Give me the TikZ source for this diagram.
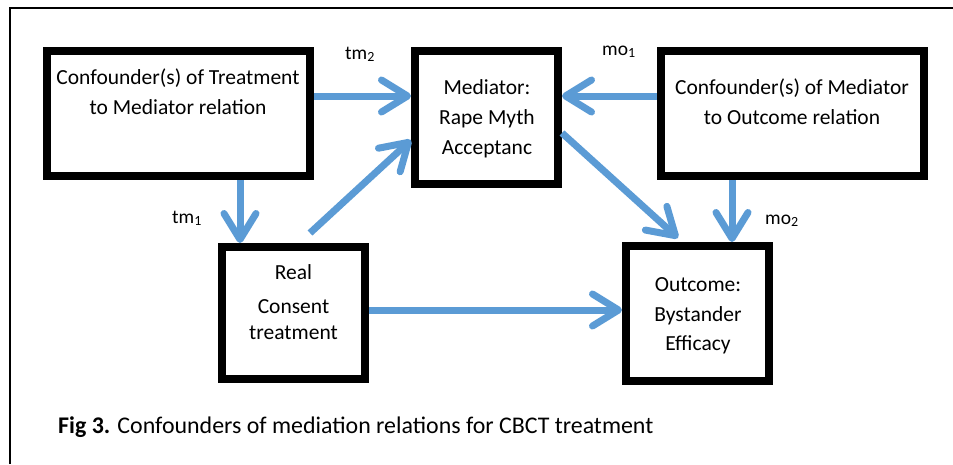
\documentclass[tikz,border=0pt]{standalone}
\usepackage{fontspec}
\setmainfont{Carlito}
\usetikzlibrary{arrows.meta}
\definecolor{arrowblue}{HTML}{5B9BD5}
\newcommand{\lowsub}[1]{\raisebox{-2.5pt}{\fontsize{14}{14}\selectfont #1}}
\begin{document}
\begin{tikzpicture}[x=1pt,y=-1pt,
  box/.style={draw=black, line width=8pt, outer sep=4pt, inner sep=0pt, fill=white, rectangle},
  boxtext/.style={anchor=base, inner sep=0pt, font=\fontsize{21.5}{25}\selectfont},
  lbl/.style={anchor=base west, inner sep=0pt, font=\fontsize{19.5}{23}\selectfont},
  link/.style={draw=arrowblue, line width=7pt, -{Straight Barb[length=26pt,width=32pt,round]}},
]
\useasboundingbox (0,0) rectangle (953,464);
\draw[line width=2pt] (10,464) -- (10,7.5) -- (953,7.5);

\node[box, minimum width=263pt, minimum height=125pt] (cta) at (178.5,113.5) {};
\node[box, minimum width=143pt, minimum height=133pt] (med) at (486.5,117.5) {};
\node[box, minimum width=263pt, minimum height=125pt] (cmo) at (792.5,113.5) {};
\node[box, minimum width=143pt, minimum height=132pt] (real) at (293.5,313) {};
\node[box, minimum width=143pt, minimum height=135pt] (out) at (697.5,313.5) {};

\node[boxtext] (cta1) at (178,84) {Confounder(s) of Treatment};
\node[boxtext] (cta2) at (178,114) {to Mediator relation};
\node[boxtext] (med1) at (487,94) {Mediator:};
\node[boxtext] (med2) at (487,124) {Rape Myth};
\node[boxtext] (med3) at (487,154) {Acceptanc};
\node[boxtext] (cmo1) at (792,94) {Confounder(s) of Mediator};
\node[boxtext] (cmo2) at (792,124) {to Outcome relation};
\node[boxtext] (real1) at (293.5,279) {Real};
\node[boxtext] (real2) at (293.5,313) {Consent};
\node[boxtext] (real3) at (293.5,339) {treatment};
\node[boxtext] (out1) at (698,291) {Outcome:};
\node[boxtext] (out2) at (698,321) {Bystander};
\node[boxtext] (out3) at (698,350) {Efficacy};

\node[lbl] (ltm2) at (345,59) {tm\lowsub{2}};
\node[lbl] (lmo1) at (602,55) {mo\lowsub{1}};
\node[lbl] (ltm1) at (172,223) {tm\lowsub{1}};
\node[lbl] (lmo2) at (765,224) {mo\lowsub{2}};

\draw[link] ([yshift=17.5pt]cta.east) -- ([yshift=21.5pt]med.west);
\draw[link] ([yshift=17.5pt]cmo.west) -- ([yshift=21.5pt]med.east);
\draw[link] ([xshift=61.5pt]cta.south) -- ([xshift=-53.5pt]real.north);
\draw[link] ([xshift=16.5pt,yshift=10pt]real.north) -- ([yshift=-22.5pt]med.west);
\draw[link] ([yshift=-15.5pt]med.east) -- ([xshift=-19.5pt,yshift=4pt]out.north);
\draw[link] ([xshift=-60.5pt]cmo.south) -- ([xshift=34.5pt]out.north);
\draw[link] ([yshift=3pt]real.east) -- ([yshift=3.5pt]out.west);

\node[anchor=base west, inner sep=0pt, font=\fontsize{23.9}{27}\selectfont] (cap) at (58,433) {\textbf{Fig 3.} Confounders of mediation relations for CBCT treatment};
\end{tikzpicture}
\end{document}
